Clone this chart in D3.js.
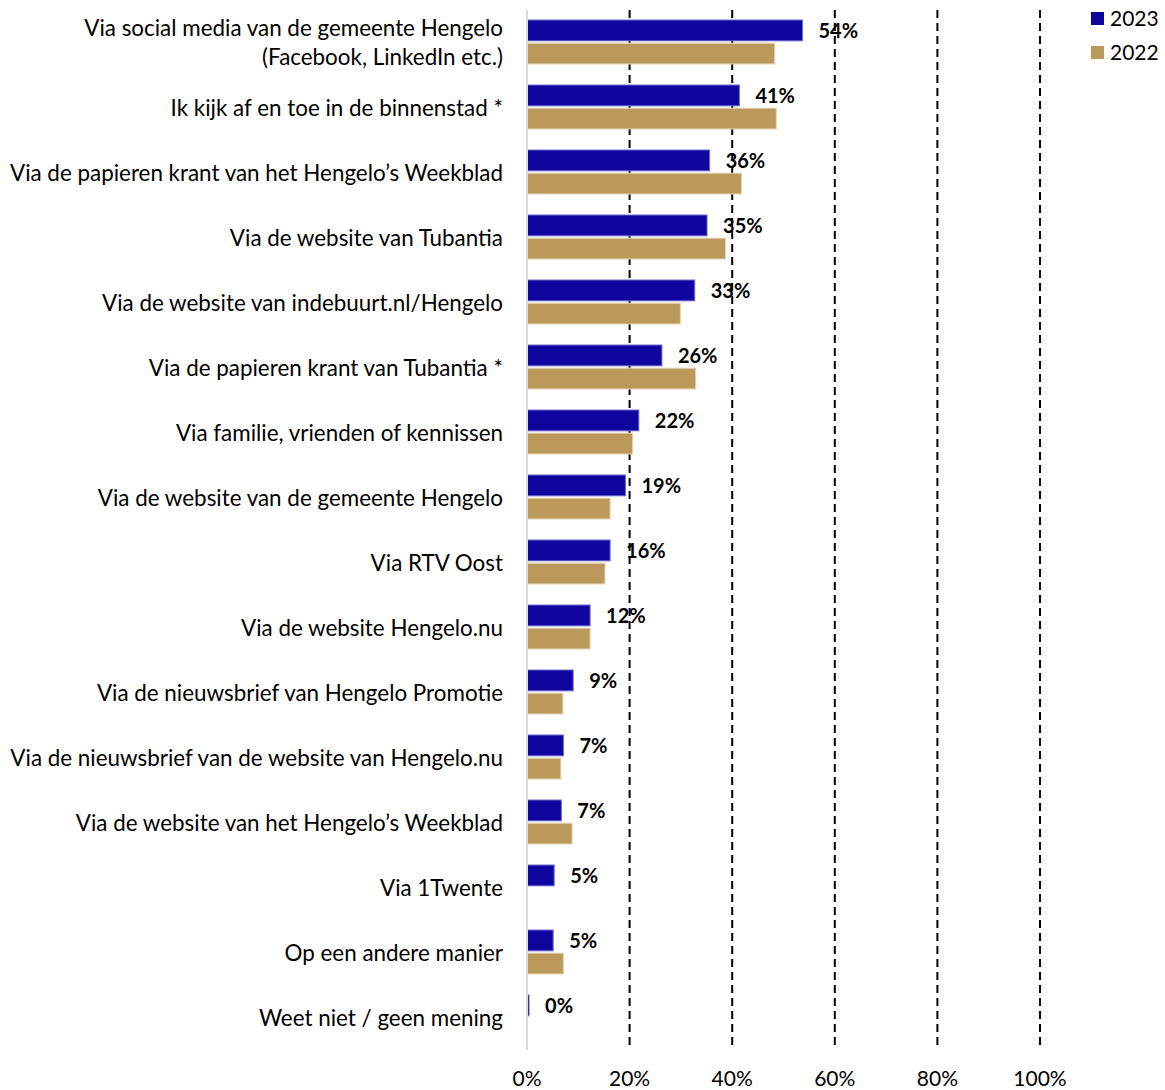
<!DOCTYPE html>
<html>
<head>
<meta charset="utf-8">
<script src="https://cdn.jsdelivr.net/npm/d3@7"></script>
<style>
  body { margin: 0; background: #fff; }
  text { font-family: Lato, "Open Sans", sans-serif; fill: #000; }
</style>
</head>
<body>
<script>
// categories (top to bottom)
var categories = [
  "Via social media van de gemeente Hengelo|(Facebook, LinkedIn etc.)",
  "Ik kijk af en toe in de binnenstad *",
  "Via de papieren krant van het Hengelo’s Weekblad",
  "Via de website van Tubantia",
  "Via de website van indebuurt.nl/Hengelo",
  "Via de papieren krant van Tubantia *",
  "Via familie, vrienden of kennissen",
  "Via de website van de gemeente Hengelo",
  "Via RTV Oost",
  "Via de website Hengelo.nu",
  "Via de nieuwsbrief van Hengelo Promotie",
  "Via de nieuwsbrief van de website van Hengelo.nu",
  "Via de website van het Hengelo’s Weekblad",
  "Via 1Twente",
  "Op een andere manier",
  "Weet niet / geen mening"
];

var values2023 = [53.7, 41.4, 35.6, 35.1, 32.7, 26.3, 21.8, 19.2, 16.2, 12.3, 9.0, 7.1, 6.7, 5.3, 5.1, 0.4];
var values2022 = [48.3, 48.6, 41.8, 38.7, 29.9, 32.9, 20.6, 16.2, 15.2, 12.3, 7.0, 6.6, 8.8, null, 7.1, null];

var series = ["2023", "2022"];
var colors = { "2023": "#10069f", "2022": "#bb995b" };
var ticks = [0, 20, 40, 60, 80, 100];

var width = 1165,
    height = 1090;

var svg = d3.select("body").append("svg")
    .attr("width", width)
    .attr("height", height);

var x = d3.scaleLinear().domain([0, 100]).range([527, 1040]);

var y = d3.scaleBand().domain(d3.range(categories.length)).range([9.5, 1049.5]);

var ySub = d3.scaleBand().domain(series).range([10.5, 54.5]).paddingInner(0.1);

// gridlines
svg.selectAll("line.grid")
    .data(ticks.slice(1))
  .enter().append("line")
    .attr("class", "grid")
    .attr("x1", function(d) { return x(d); })
    .attr("x2", function(d) { return x(d); })
    .attr("y1", 10)
    .attr("y2", 1050)
    .attr("stroke", "#000")
    .attr("stroke-width", 2)
    .attr("stroke-dasharray", "8,5");

// tick labels
svg.selectAll("text.tick")
    .data(ticks)
  .enter().append("text")
    .attr("class", "tick")
    .attr("x", function(d) { return x(d); })
    .attr("y", 1079)
    .attr("dy", ".35em")
    .attr("text-anchor", "middle")
    .style("font-size", "21px")
    .text(function(d) { return d + "%"; });

// bars
var rows = svg.selectAll("g.row")
    .data(categories)
  .enter().append("g")
    .attr("class", "row")
    .attr("transform", function(d, i) { return "translate(0," + y(i) + ")"; });

rows.each(function(d, i) {
  var g = d3.select(this);
  var vals = { "2023": values2023[i], "2022": values2022[i] };
  series.forEach(function(s) {
    if (vals[s] == null) return;
    g.append("rect")
      .attr("x", x(0))
      .attr("y", ySub(s))
      .attr("width", x(vals[s]) - x(0))
      .attr("height", ySub.bandwidth())
      .attr("fill", colors[s])
      .attr("stroke", s === "2023" ? "#6f6ad0" : "#e6d6b8")
      .attr("stroke-width", 1);
  });

  // value label
  g.append("text")
    .attr("x", x(values2023[i]) + 16)
    .attr("y", ySub("2023") + ySub.bandwidth() / 2 + 1)
    .attr("dy", ".35em")
    .style("font-size", "20px")
    .style("font-weight", "bold")
    .text(Math.round(values2023[i]) + "%");

  // category label
  var lines = d.split("|");
  var t = g.append("text")
    .attr("x", 503)
    .attr("text-anchor", "end")
    .style("font-size", "22.4px");
  lines.forEach(function(line, k) {
    t.append("tspan")
      .attr("x", 503)
      .attr("y", y.bandwidth() / 2 + 1 + (k - (lines.length - 1) / 2) * 29)
      .attr("dy", ".35em")
      .text(line);
  });
});

// axis line
svg.append("line")
    .attr("x1", x(0))
    .attr("x2", x(0))
    .attr("y1", 10)
    .attr("y2", 1050)
    .attr("stroke", "#d9d9d9")
    .attr("stroke-width", 2);

// legend
var legend = svg.selectAll("g.legend")
    .data(series)
  .enter().append("g")
    .attr("class", "legend")
    .attr("transform", function(d, i) { return "translate(1091," + (12 + i * 34) + ")"; });

legend.append("rect")
    .attr("width", 13)
    .attr("height", 13)
    .attr("fill", function(d) { return colors[d]; });

legend.append("text")
    .attr("x", 19)
    .attr("y", 7)
    .attr("dy", ".35em")
    .style("font-size", "21px")
    .text(function(d) { return d; });
</script>
</body>
</html>
